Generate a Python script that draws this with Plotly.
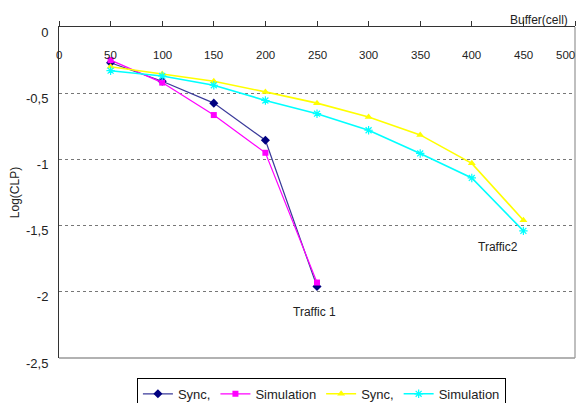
import plotly.graph_objects as go

buffer_t1 = [50, 100, 150, 200, 250]
sync_t1 = [-0.27, -0.41, -0.575, -0.855, -1.96]
sim_t1 = [-0.25, -0.42, -0.665, -0.95, -1.93]

buffer_t2 = [50, 100, 150, 200, 250, 300, 350, 400, 450]
sync_t2 = [-0.30, -0.355, -0.41, -0.49, -0.575, -0.68, -0.815, -1.03, -1.46]
sim_t2 = [-0.33, -0.37, -0.44, -0.555, -0.655, -0.78, -0.955, -1.14, -1.54]

x_ticks = [0, 50, 100, 150, 200, 250, 300, 350, 400, 450, 500]
y_ticks = [0, -0.5, -1, -1.5, -2, -2.5]
y_ticktext = ["0", "-0,5", "-1", "-1,5", "-2", "-2,5"]

FONT = "Liberation Sans, Arial, sans-serif"
TXT = dict(family=FONT, size=12, color="#222222")

fig = go.Figure()
fig.add_trace(go.Scatter(x=buffer_t1, y=sync_t1, name="Sync,", mode="lines+markers",
                         line=dict(color="#3a3a9a", width=1.2),
                         marker=dict(symbol="diamond", size=7, color="#000080")))
fig.add_trace(go.Scatter(x=buffer_t1, y=sim_t1, name="Simulation", mode="lines+markers",
                         line=dict(color="#FF00FF", width=1.2),
                         marker=dict(symbol="square", size=6, color="#FF00FF")))
fig.add_trace(go.Scatter(x=buffer_t2, y=sync_t2, name="Sync,", mode="lines+markers",
                         line=dict(color="#FFFF00", width=1.6),
                         marker=dict(symbol="triangle-up", size=7, color="#FFFF00")))
fig.add_trace(go.Scatter(x=buffer_t2, y=sim_t2, name="Simulation", mode="lines+markers",
                         line=dict(color="#00FFFF", width=1.6),
                         marker=dict(symbol="asterisk-open", size=7, color="#00FFFF",
                                     line=dict(color="#00FFFF", width=1.2))))

fig.update_layout(
    width=576, height=395,
    margin=dict(l=51, r=9, t=19, b=45, autoexpand=False),
    paper_bgcolor="white", plot_bgcolor="white",
    font=TXT,
    showlegend=True,
    legend=dict(orientation="h", x=0.151, y=-0.06, xanchor="left", yanchor="top",
                bordercolor="black", borderwidth=1, bgcolor="white",
                font=dict(family=FONT, size=13, color="#222222"),
                itemwidth=30, tracegroupgap=0),
    xaxis=dict(range=[0, 500], side="top", tickvals=x_ticks, ticks="outside",
               ticklen=5, tickcolor="#333333", showticklabels=False,
               showline=True, linecolor="#333333", linewidth=1,
               showgrid=False, zeroline=False, automargin=False),
    yaxis=dict(range=[-2.5, 0], tickvals=y_ticks, ticktext=y_ticktext,
               ticks="", showline=True, linecolor="#333333", linewidth=1,
               showgrid=True, gridcolor="#777777", griddash="dot", gridwidth=1,
               zeroline=False, automargin=False, ticklabelshift=5,
               ticklabelstandoff=7,
               title=dict(text="Log(CLP)", font=TXT, standoff=10),
               tickfont=dict(family=FONT, size=13, color="#222222")),
)

# x tick labels drawn inside the plot, below the top axis line
last = x_ticks[-1]
for v in x_ticks:
    fig.add_annotation(text=str(v), x=v, xref="x", y=0.915, yref="paper",
                       showarrow=False,
                       xanchor="right" if v == last else "center",
                       xshift=2 if v == last else 0,
                       yanchor="middle",
                       font=dict(family=FONT, size=11.5, color="#222222"))

# right and bottom borders of the plot area
fig.add_shape(type="line", xref="paper", yref="paper", x0=1, x1=1, y0=0, y1=1,
              line=dict(color="#aaaaaa", width=1.5))
fig.add_shape(type="line", xref="paper", yref="paper", x0=0, x1=1, y0=0, y1=0,
              line=dict(color="#999999", width=1.5))

fig.add_annotation(text="Buffer(cell)", xref="paper", yref="paper", x=0.99, y=1.0,
                   xanchor="right", yanchor="bottom", showarrow=False, yshift=-2,
                   font=TXT)
fig.add_annotation(text="Traffic 1", x=248, y=-2.15, showarrow=False, font=TXT)
fig.add_annotation(text="Traffic2", x=425, y=-1.66, showarrow=False, font=TXT)

fig.write_html("out.html")
